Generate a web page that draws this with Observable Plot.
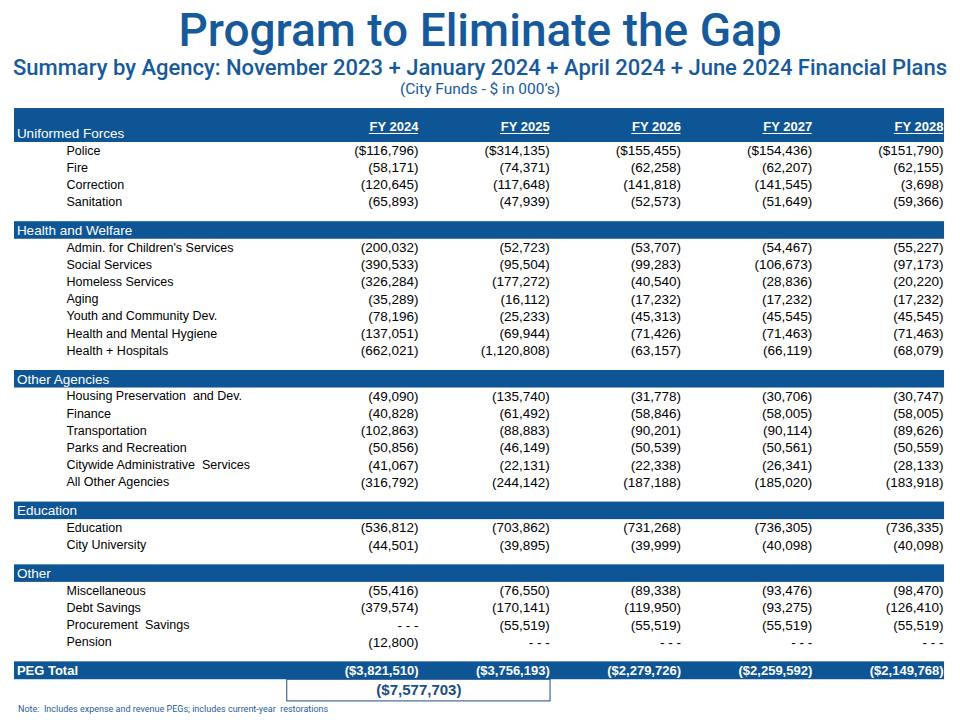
<!DOCTYPE html>
<html>
<head>
<meta charset="utf-8">
<script src="https://cdn.jsdelivr.net/npm/d3@7"></script>
<script src="https://cdn.jsdelivr.net/npm/@observablehq/plot@0.6"></script>
<style>
  html, body { margin: 0; padding: 0; background: #ffffff; }
  #page { position: relative; width: 960px; height: 720px; overflow: hidden; }
  #head { position: relative; width: 960px; height: 100px; }
  #title { position: absolute; left: 0; width: 960px; top: 3px; text-align: center; font-family: Roboto, "Noto Sans", sans-serif; font-weight: 500; font-size: 46px; line-height: 54px; color: #175a9b; }
  #subtitle { position: absolute; left: 0; width: 960px; top: 55px; text-align: center; font-family: Roboto, "Noto Sans", sans-serif; font-weight: 500; font-size: 22px; line-height: 26px; color: #175a9b; }
  #unit { position: absolute; left: 0; width: 960px; top: 79px; text-align: center; font-family: Roboto, "Noto Sans", sans-serif; font-size: 15.5px; line-height: 20px; color: #175a9b; }
  #note { position: absolute; left: 18px; top: 701px; font-family: Roboto, "Noto Sans", sans-serif; font-size: 9px; line-height: 16px; color: #2a5d9a; }
  #chart { position: absolute; left: 0; top: 100px; }
</style>
</head>
<body>
<div id="page">
  <div id="head">
    <div id="title">Program to Eliminate the Gap</div>
    <div id="subtitle">Summary by Agency: November 2023 + January 2024 + April 2024 + June 2024 Financial Plans</div>
    <div id="unit">(City Funds - $ in 000’s)</div>
  </div>
  <div id="chart"></div>
  <div id="note">Note:&nbsp; Includes expense and revenue PEGs; includes current-year&nbsp; restorations</div>
</div>
<script>
// ---------- DATA (City Funds, $ in 000's; savings shown as negatives; null = "- - -") ----------
const fiscalYears = ["FY 2024", "FY 2025", "FY 2026", "FY 2027", "FY 2028"];

const sectionNames = ["Uniformed Forces", "Health and Welfare", "Other Agencies", "Education", "Other"];

const uniformedAgencies = ["Police", "Fire", "Correction", "Sanitation"];
const uniformedValues = [
  [-116796, -314135, -155455, -154436, -151790],
  [-58171, -74371, -62258, -62207, -62155],
  [-120645, -117648, -141818, -141545, -3698],
  [-65893, -47939, -52573, -51649, -59366]
];

const healthAgencies = ["Admin. for Children's Services", "Social Services", "Homeless Services", "Aging",
  "Youth and Community Dev.", "Health and Mental Hygiene", "Health + Hospitals"];
const healthValues = [
  [-200032, -52723, -53707, -54467, -55227],
  [-390533, -95504, -99283, -106673, -97173],
  [-326284, -177272, -40540, -28836, -20220],
  [-35289, -16112, -17232, -17232, -17232],
  [-78196, -25233, -45313, -45545, -45545],
  [-137051, -69944, -71426, -71463, -71463],
  [-662021, -1120808, -63157, -66119, -68079]
];

const otherAgencyNames = ["Housing Preservation  and Dev.", "Finance", "Transportation", "Parks and Recreation",
  "Citywide Administrative  Services", "All Other Agencies"];
const otherAgencyValues = [
  [-49090, -135740, -31778, -30706, -30747],
  [-40828, -61492, -58846, -58005, -58005],
  [-102863, -88883, -90201, -90114, -89626],
  [-50856, -46149, -50539, -50561, -50559],
  [-41067, -22131, -22338, -26341, -28133],
  [-316792, -244142, -187188, -185020, -183918]
];

const educationAgencies = ["Education", "City University"];
const educationValues = [
  [-536812, -703862, -731268, -736305, -736335],
  [-44501, -39895, -39999, -40098, -40098]
];

const otherItems = ["Miscellaneous", "Debt Savings", "Procurement  Savings", "Pension"];
const otherValues = [
  [-55416, -76550, -89338, -93476, -98470],
  [-379574, -170141, -119950, -93275, -126410],
  [null, -55519, -55519, -55519, -55519],
  [-12800, null, null, null, null]
];

const pegTotalLabel = "PEG Total";
const pegTotals = [-3821510, -3756193, -2279726, -2259592, -2149768];
const twoYearTotal = -7577703; // FY 2024 + FY 2025

// ---------- TABLE BUILD ----------
const groups = [
  [uniformedAgencies, uniformedValues],
  [healthAgencies, healthValues],
  [otherAgencyNames, otherAgencyValues],
  [educationAgencies, educationValues],
  [otherItems, otherValues]
];

const GAP = 0.65;            // extra spacing (in rows) before a section band
const bandRows = [];
const itemRows = [];
let slot = 0;
groups.forEach(([names, vals], gi) => {
  if (gi > 0) { slot += GAP; bandRows.push({label: sectionNames[gi], slot}); slot += 1; }
  names.forEach((n, k) => { itemRows.push({label: n, slot, values: vals[k], dollar: gi === 0 && k === 0}); slot += 1; });
});
slot += GAP;
const totalSlot = slot;

const fmtNum = d3.format(",");
const fmt = (v, dollar) => v == null ? "- - -" : "(" + (dollar ? "$" : "") + fmtNum(Math.abs(v)) + ")";

const cells = itemRows.flatMap(r => r.values.map((v, i) => ({slot: r.slot, col: i, text: fmt(v, r.dollar)})));
const totalCells = pegTotals.map((v, i) => ({slot: totalSlot, col: i, text: fmt(v, true)}));
const headerCells = fiscalYears.map((fy, i) => ({col: i, text: fy}));

// layout in column units (x) and row units (y)
const L = -3.078, R = 4.008, LABEL_X = -3.06, ITEM_X = -2.682;
const HEADER_TOP = -2.44, HEADER_BOTTOM = -0.465, HEADER_LABEL = -0.99, FY_LABEL = -1.4;
const UNDERLINE_W = 0.375;

const BLUE = "#0e5595";
const DARK = "#1b4c86";

const chart = Plot.plot({
  width: 960,
  height: 600,
  margin: 0,
  style: {fontFamily: "'Liberation Sans', Arial, sans-serif", fontSize: "13px", background: "white", overflow: "visible"},
  x: {type: "linear", domain: [0, 4], range: [418, 943], axis: null},
  y: {type: "linear", domain: [0, totalSlot], range: [50, 570.3], axis: null},
  marks: [
    // header band
    Plot.rect([{}], {x1: L, x2: R, y1: HEADER_TOP, y2: HEADER_BOTTOM, fill: BLUE}),
    // section bands
    Plot.rect(bandRows, {x1: L, x2: R, y1: d => d.slot - 0.51, y2: d => d.slot + 0.51, fill: BLUE}),
    // total band
    Plot.rect([{slot: totalSlot}], {x1: L, x2: R, y1: d => d.slot - 0.52, y2: d => d.slot + 0.52, fill: BLUE}),
    // two-year total box
    Plot.rect([{slot: totalSlot}], {x1: -1, x2: 1.006, y1: d => d.slot + 0.52, y2: d => d.slot + 1.78, fill: "none", stroke: DARK, strokeWidth: 1}),
    // header texts
    Plot.text([sectionNames[0]], {x: LABEL_X, y: HEADER_LABEL, text: d => d, textAnchor: "start", fill: "white", fontSize: 13.5}),
    Plot.text(headerCells, {x: "col", y: FY_LABEL, text: "text", textAnchor: "end", fill: "white", fontSize: 13, fontWeight: "bold"}),
    Plot.ruleY(headerCells, {x1: d => d.col - UNDERLINE_W, x2: "col", y: FY_LABEL + 0.41, stroke: "white", strokeWidth: 1}),
    // section labels
    Plot.text(bandRows, {x: LABEL_X, y: "slot", text: "label", textAnchor: "start", fill: "white", fontSize: 13.5}),
    // item labels
    Plot.text(itemRows, {x: ITEM_X, y: "slot", text: "label", textAnchor: "start", fill: "black", fontSize: 12.5}),
    // values
    Plot.text(cells, {x: "col", y: "slot", text: "text", textAnchor: "end", fill: "black", fontSize: 13.5}),
    // totals
    Plot.text([pegTotalLabel], {x: LABEL_X, y: totalSlot, text: d => d, textAnchor: "start", fill: "white", fontSize: 13, fontWeight: "bold"}),
    Plot.text(totalCells, {x: "col", y: "slot", text: "text", textAnchor: "end", fill: "white", fontSize: 13, fontWeight: "bold", ariaLabel: "peg-total"}),
    Plot.text([twoYearTotal], {x: 0.003, y: totalSlot + 1.15, text: d => fmt(d, true), textAnchor: "middle", fill: DARK, fontSize: 15, fontWeight: "bold", ariaLabel: "two-year-total"})
  ]
});

d3.select(chart).selectAll("g").filter(function () { return this.getAttribute("aria-label") === "peg-total"; })
  .attr("letter-spacing", "-0.6px").selectAll("text").attr("letter-spacing", "-0.6px");
d3.select(chart).selectAll("g").filter(function () { return this.getAttribute("aria-label") === "two-year-total"; })
  .selectAll("text").attr("letter-spacing", "0.4px");
document.getElementById("chart").appendChild(chart);
</script>
</body>
</html>
